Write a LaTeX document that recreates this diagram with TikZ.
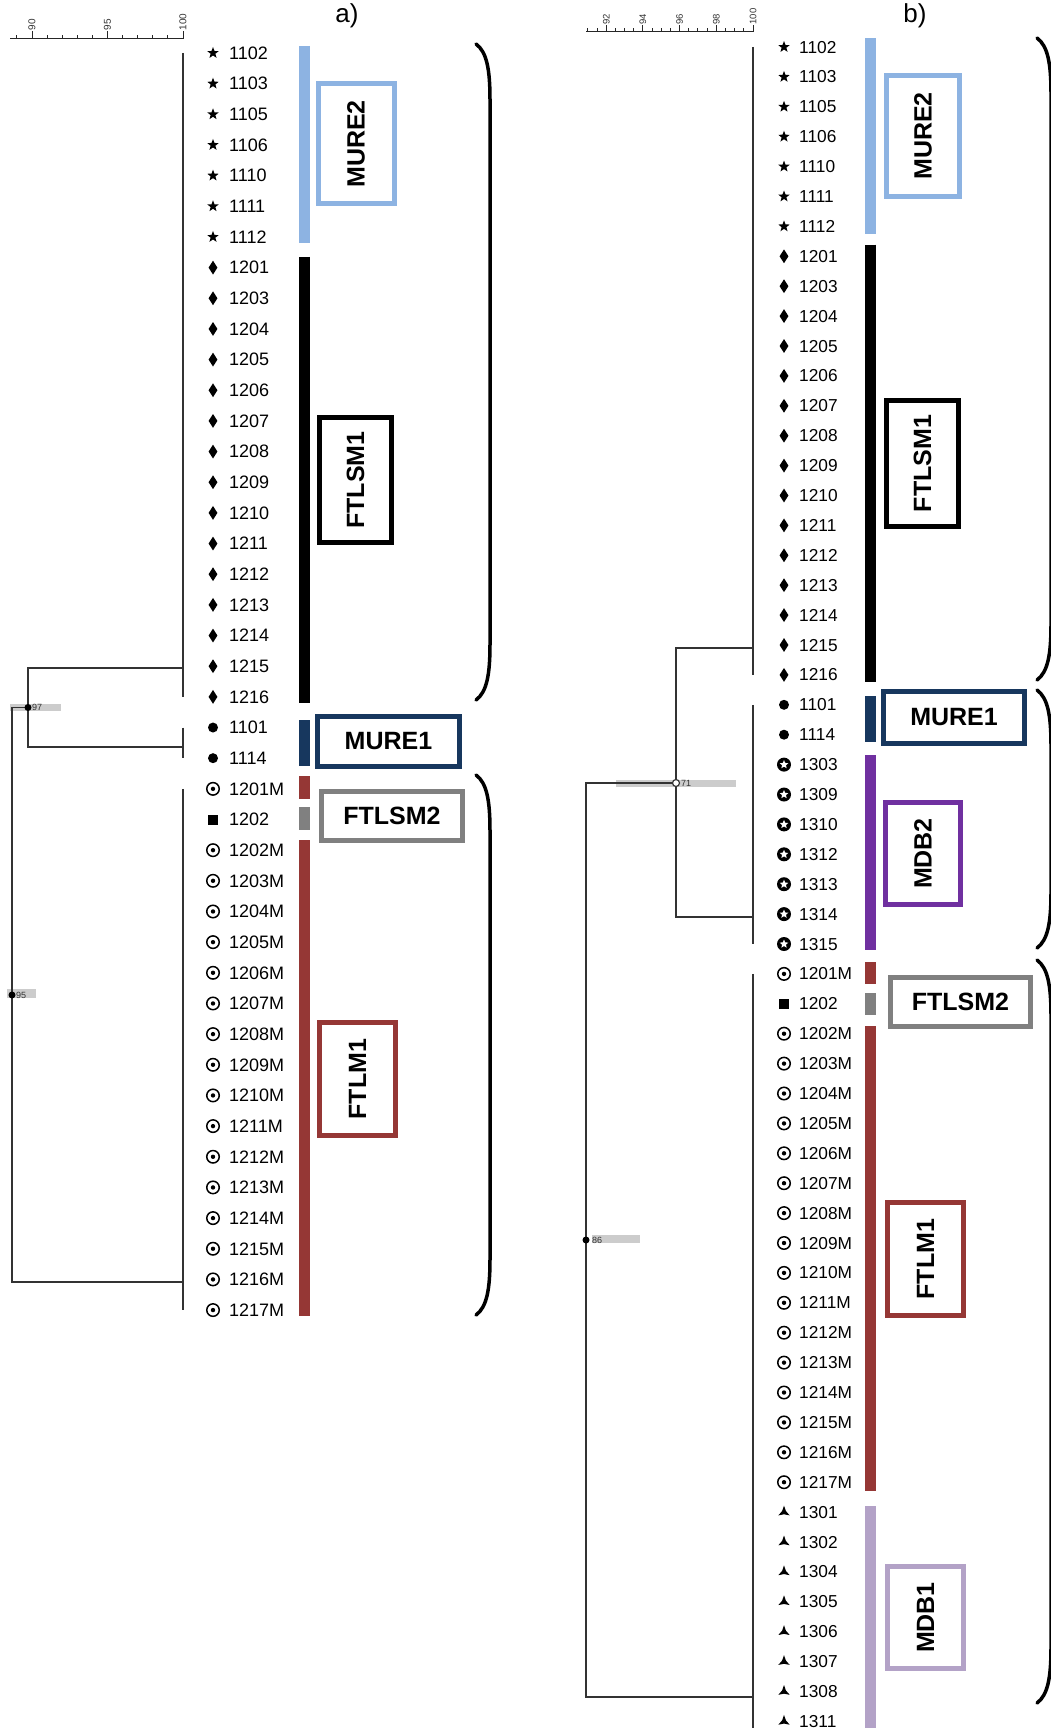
\documentclass[tikz,border=0pt]{standalone}
\usepackage{fontspec}
\setmainfont{Liberation Sans}
\usetikzlibrary{shapes.geometric}

\definecolor{cmure2}{HTML}{8DB3E2}
\definecolor{cmure1}{HTML}{17375E}
\definecolor{cftlm1}{HTML}{953735}
\definecolor{cftlsm2}{HTML}{808080}
\definecolor{cmdb2}{HTML}{7030A0}
\definecolor{cmdb1}{HTML}{B3A2C7}

\tikzset{
  tree/.style={line width=1.6pt, draw=black!80},
  axis/.style={line width=1pt, draw=black!85},
  scl/.style={font=\fontsize{10}{10}\selectfont, text=black!80, inner sep=0.5pt},
  nlab/.style={font=\fontsize{9}{9}\selectfont, text=black!80, inner sep=0pt, anchor=west},
  sbar/.style={fill=black!20},
  leafa/.style={anchor=west, inner sep=0pt, text depth=0pt, font=\fontsize{18}{18}\selectfont},
  leafb/.style={leafa, font=\fontsize{17.3}{17.3}\selectfont},
  gbar/.style={line width=11pt},
  gbox/.style={draw, line width=5pt, fill=white, inner sep=0pt, font=\fontsize{25}{25}\selectfont\bfseries},
  brc/.style={line width=3.5pt, line cap=round},
  mstar/.style={star, star points=5, star point ratio=2.4, fill, inner sep=0pt, minimum size=12pt},
  mdiam/.style={diamond, fill, inner sep=0pt, minimum width=9pt, minimum height=14pt},
  mdot/.style={circle, fill, inner sep=0pt, minimum size=10pt},
  mcirc/.style={circle, draw, line width=1.5pt, inner sep=0pt, minimum size=12.5pt,
    path picture={\fill (path picture bounding box.center) circle (2.2pt);}},
  msq/.style={rectangle, fill, inner sep=0pt, minimum size=10pt},
  mcstar/.style={circle, fill, inner sep=0pt, minimum size=14pt,
    path picture={\node[star, star points=5, star point ratio=2.2, fill=white, inner sep=0pt, minimum size=9pt] at (path picture bounding box.center) {};}},
  mtri/.style={star, star points=3, star point ratio=3, fill, inner sep=0pt, minimum size=13pt},
}

% x, top y, bottom y
\newcommand{\closebrace}[3]{%
  \draw[brc] (#1,#2) .. controls ({#1+11},{#2+8}) and ({#1+14},{#2+26}) .. ({#1+14},{#2+56})
    -- ({#1+14},{#3-56}) .. controls ({#1+14},{#3-26}) and ({#1+11},{#3-8}) .. (#1,#3);}

\begin{document}
\begin{tikzpicture}[x=1pt, y=-1pt]
\useasboundingbox (0,0) rectangle (1050,1728);

%%%%% a)
\draw[axis] (10,39) -- (183,39);
\foreach \k in {0,...,11} \draw[axis] ({183-15.1*\k},39) -- ++(0,-4);
\foreach \v/\k in {90/10,95/5,100/0} {
  \draw[axis] ({183-15.1*\k},39) -- ++(0,-8);
  \node[scl, rotate=90, anchor=west] at ({183-15.1*\k},31) {\v};
}
\node[font=\fontsize{26}{26}\selectfont] (apanel) at (347,16) {a)};

% leaves
\foreach \lab [count=\i from 0] in {1102,1103,1105,1106,1110,1111,1112} {
  \node[mstar] at (213,{53+30.66*\i}) {};
  \node[leafa] (a\lab) at (229,{53+30.66*\i}) {\lab};
}
\foreach \lab [count=\i from 7] in {1201,1203,1204,...,1216} {
  \node[mdiam] at (213,{53+30.66*\i}) {};
  \node[leafa] (a\lab) at (229,{53+30.66*\i}) {\lab};
}
\foreach \lab [count=\i from 22] in {1101,1114} {
  \node[mdot] at (213,{53+30.66*\i}) {};
  \node[leafa] (a\lab) at (229,{53+30.66*\i}) {\lab};
}
\node[mcirc] at (213,{53+30.66*24}) {};
\node[leafa] (a1201M) at (229,{53+30.66*24}) {1201M};
\node[msq] at (213,{53+30.66*25}) {};
\node[leafa] (a1202) at (229,{53+30.66*25}) {1202};
\foreach \n [count=\i from 26] in {1202,...,1217} {
  \node[mcirc] at (213,{53+30.66*\i}) {};
  \node[leafa] (a\n M) at (229,{53+30.66*\i}) {\n M};
}

% tree
\coordinate (aA) at (183,668);
\coordinate (aB) at (183,747);
\coordinate (aC) at (183,1282);
\coordinate (n97) at (28,707.5);
\coordinate (n95) at (12,995);
\fill[sbar] (10,704) rectangle (61,711);
\fill[sbar] (7,989) rectangle (36,998);
\draw[tree] (aA |- a1102.west) -- (aA |- a1216.west);
\draw[tree] (aA |- a1101.west) -- (aA |- a1114.west);
\draw[tree] (aA |- a1201M.west) -- (aA |- a1217M.west);
\draw[tree] (aA) -| (n97) |- (aB);
\draw[tree] (n97) -| (n95) |- (aC);
\fill (n97) circle (3.5);
\fill (n95) circle (3.5);
\node[nlab] at ([xshift=4pt]n97) {97};
\node[nlab] at ([xshift=4pt]n95) {95};

% groups
\draw[gbar, cmure2] (304,46) -- (304,243);
\draw[gbar, black] (304,257) -- (304,703);
\draw[gbar, cmure1] (304,720) -- (304,766);
\draw[gbar, cftlm1] (304,776) -- (304,799);
\draw[gbar, cftlsm2] (304,807) -- (304,830);
\draw[gbar, cftlm1] (304,840) -- (304,1316);

\node[gbox, draw=cmure2, rotate=90, minimum width=120pt, minimum height=76pt] (aMURE2) at (356,144) {MURE2};
\node[gbox, draw=black, rotate=90, minimum width=125pt, minimum height=72pt] (aFTLSM1) at (355.5,480) {FTLSM1};
\node[gbox, draw=cmure1, minimum width=142pt, minimum height=50pt] (aMURE1) at (388.5,741.5) {MURE1};
\node[gbox, draw=cftlsm2, minimum width=141pt, minimum height=49pt] (aFTLSM2) at (392,816) {FTLSM2};
\node[gbox, draw=cftlm1, rotate=90, minimum width=113pt, minimum height=76pt] (aFTLM1) at (357.5,1079) {FTLM1};

\closebrace{476}{44}{700}
\closebrace{476}{775}{1315}

%%%%% b)
\draw[axis] (586,32) -- (753,32);
\foreach \k in {0,...,18} \draw[axis] ({753-9.17*\k},32) -- ++(0,-3.5);
\foreach \v/\k in {92/16,94/12,96/8,98/4,100/0} {
  \draw[axis] ({753-9.17*\k},32) -- ++(0,-7);
  \node[scl, font=\fontsize{9.5}{9.5}\selectfont, rotate=90, anchor=west] at ({753-9.17*\k},25) {\v};
}
\node[font=\fontsize{26}{26}\selectfont] (bpanel) at (915,16) {b)};

% leaves
\foreach \lab [count=\i from 0] in {1102,1103,1105,1106,1110,1111,1112} {
  \node[mstar] at (784,{47+29.9*\i}) {};
  \node[leafb] (b\lab) at (799,{47+29.9*\i}) {\lab};
}
\foreach \lab [count=\i from 7] in {1201,1203,1204,...,1216} {
  \node[mdiam] at (784,{47+29.9*\i}) {};
  \node[leafb] (b\lab) at (799,{47+29.9*\i}) {\lab};
}
\foreach \lab [count=\i from 22] in {1101,1114} {
  \node[mdot] at (784,{47+29.9*\i}) {};
  \node[leafb] (b\lab) at (799,{47+29.9*\i}) {\lab};
}
\foreach \lab [count=\i from 24] in {1303,1309,1310,1312,1313,1314,1315} {
  \node[mcstar] at (784,{47+29.9*\i}) {};
  \node[leafb] (b\lab) at (799,{47+29.9*\i}) {\lab};
}
\node[mcirc] at (784,{47+29.9*31}) {};
\node[leafb] (b1201M) at (799,{47+29.9*31}) {1201M};
\node[msq] at (784,{47+29.9*32}) {};
\node[leafb] (b1202) at (799,{47+29.9*32}) {1202};
\foreach \n [count=\i from 33] in {1202,...,1217} {
  \node[mcirc] at (784,{47+29.9*\i}) {};
  \node[leafb] (b\n M) at (799,{47+29.9*\i}) {\n M};
}
\foreach \lab [count=\i from 49] in {1301,1302,1304,1305,1306,1307,1308,1311} {
  \node[mtri] at (784,{47+29.9*\i}) {};
  \node[leafb] (b\lab) at (799,{47+29.9*\i}) {\lab};
}

% tree
\coordinate (bA) at (753,648);
\coordinate (bB) at (753,917);
\coordinate (bC) at (753,1697);
\coordinate (n71) at (676,783);
\coordinate (n86) at (586,1240);
\fill[sbar] (616,780) rectangle (736,787);
\fill[sbar] (592,1235) rectangle (640,1243);
\draw[tree] (bA |- b1102.west) -- (bA |- b1216.west);
\draw[tree] (bA |- b1101.west) -- (bA |- b1315.west);
\draw[tree] (bA |- b1201M.west) -- (bA |- b1311.west) -- ++(0,10);
\draw[tree] (bA) -| (n71) |- (bB);
\draw[tree] (n71) -| (n86) |- (bC);
\draw[tree, line width=1.2pt, fill=white] (n71) circle (3.5);
\fill (n86) circle (3.5);
\node[nlab] at ([xshift=5pt]n71) {71};
\node[nlab] at ([xshift=6pt]n86) {86};

% groups
\draw[gbar, cmure2] (870.5,38.5) -- (870.5,233.6);
\draw[gbar, black] (870.5,244.6) -- (870.5,682);
\draw[gbar, cmure1] (870.5,696) -- (870.5,742);
\draw[gbar, cmdb2] (870.5,755) -- (870.5,950);
\draw[gbar, cftlm1] (870.5,962) -- (870.5,984);
\draw[gbar, cftlsm2] (870.5,993) -- (870.5,1015);
\draw[gbar, cftlm1] (870.5,1026) -- (870.5,1491);
\draw[gbar, cmdb1] (870.5,1506) -- (870.5,1740);

\node[gbox, draw=cmure2, rotate=90, minimum width=121pt, minimum height=73pt] (bMURE2) at (923,136) {MURE2};
\node[gbox, draw=black, rotate=90, minimum width=126pt, minimum height=72pt] (bFTLSM1) at (922.5,463.5) {FTLSM1};
\node[gbox, draw=cmure1, minimum width=141pt, minimum height=52pt] (bMURE1) at (954,717.5) {MURE1};
\node[gbox, draw=cmdb2, rotate=90, minimum width=102pt, minimum height=75pt] (bMDB2) at (923,853.5) {MDB2};
\node[gbox, draw=cftlsm2, minimum width=140pt, minimum height=49pt] (bFTLSM2) at (960.5,1002) {FTLSM2};
\node[gbox, draw=cftlm1, rotate=90, minimum width=113pt, minimum height=76pt] (bFTLM1) at (925.5,1259) {FTLM1};
\node[gbox, draw=cmdb1, rotate=90, minimum width=102pt, minimum height=76pt] (bMDB1) at (925.5,1617.5) {MDB1};

\closebrace{1037}{38}{680}
\closebrace{1037}{690}{948}
\closebrace{1037}{960}{1703}
\end{tikzpicture}
\end{document}
